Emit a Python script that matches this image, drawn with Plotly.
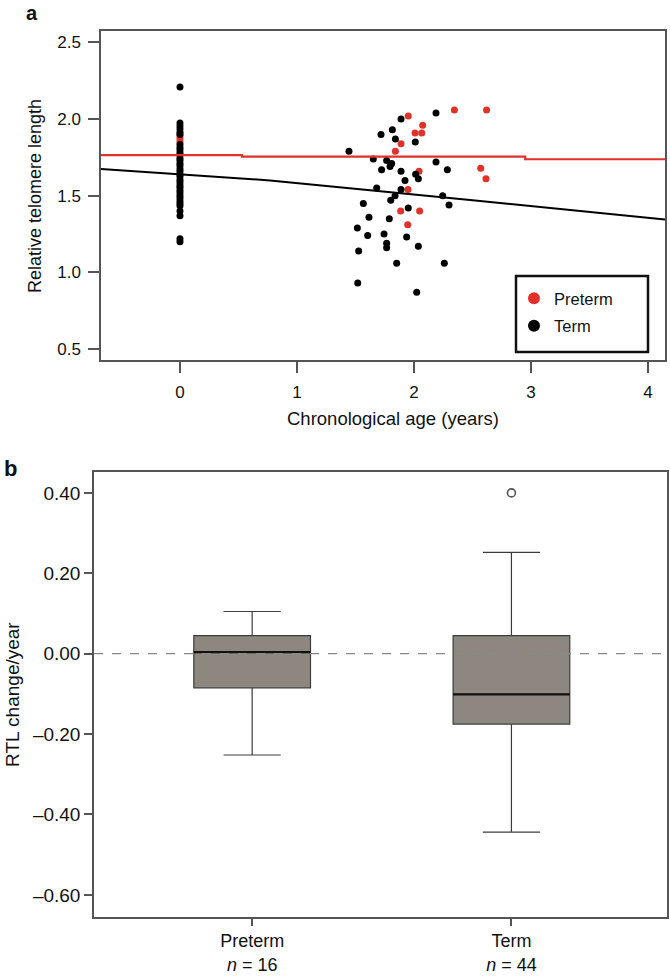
import plotly.graph_objects as go

# ---------------- Panel a data ----------------
# baseline (age 0) relative telomere length
term_age0_rtl = [2.21, 1.975, 1.955, 1.935, 1.915, 1.90, 1.835, 1.815, 1.80, 1.78,
                 1.765, 1.745, 1.73, 1.71, 1.695, 1.675, 1.66, 1.64, 1.625, 1.605,
                 1.59, 1.57, 1.555, 1.535, 1.52, 1.50, 1.485, 1.465, 1.45, 1.435,
                 1.40, 1.37, 1.22, 1.20]
preterm_age0_rtl = [1.85, 1.87, 1.89]

# follow-up (~2 years)
term_age = [1.889, 2.188, 1.718, 1.815, 1.841, 2.011, 1.444, 1.652, 1.766, 1.809,
            1.795, 1.723, 1.889, 2.188, 2.285, 2.014, 2.037, 1.923, 1.681, 1.889,
            1.838, 1.801, 2.245, 2.299, 1.567, 1.615, 1.789, 1.951, 1.516, 1.604,
            1.744, 1.937, 1.766, 1.766, 2.037, 1.527, 1.852, 2.259, 1.519, 2.023]
term_rtl = [2.00, 2.04, 1.90, 1.93, 1.87, 1.85, 1.79, 1.74, 1.73, 1.71,
            1.69, 1.67, 1.66, 1.72, 1.67, 1.64, 1.61, 1.60, 1.55, 1.54,
            1.50, 1.47, 1.50, 1.44, 1.45, 1.36, 1.35, 1.42, 1.29, 1.24,
            1.25, 1.23, 1.19, 1.16, 1.17, 1.14, 1.06, 1.06, 0.93, 0.87]
preterm_age = [1.951, 2.345, 2.074, 2.009, 2.066, 1.889, 1.841, 2.043, 1.949, 1.886,
               2.048, 1.946, 2.62, 2.57, 2.615]
preterm_rtl = [2.02, 2.06, 1.96, 1.91, 1.91, 1.84, 1.79, 1.66, 1.54, 1.40,
               1.40, 1.31, 2.06, 1.68, 1.61]

# fitted lines
preterm_fit_x = [-0.675, 0.53, 2.95, 4.145]
preterm_fit_y = [1.765, 1.755, 1.738, 1.738]
term_fit_x = [-0.675, 0.77, 2.48, 4.145]
term_fit_y = [1.675, 1.600, 1.472, 1.345]

age_ticks = [0, 1, 2, 3, 4]
rtl_ticks = [0.5, 1.0, 1.5, 2.0, 2.5]

# ---------------- Panel b data ----------------
groups = ["Preterm", "Term"]
group_n = [16, 44]
q1 = [-0.085, -0.175]
median = [0.004, -0.101]
q3 = [0.045, 0.045]
lower_fence = [-0.252, -0.444]
upper_fence = [0.105, 0.252]
outlier_group = [1]
outlier_value = [0.40]
change_ticks = [0.40, 0.20, 0.00, -0.20, -0.40, -0.60]
change_tick_text = ["0.40", "0.20", "0.00", "\u20130.20", "\u20130.40", "\u20130.60"]

RED = "#e2302a"
BLACK = "#000000"
W, H = 670, 976
BOX_W = 0.45


def px_x(p):
    return p / W


def px_y(p):
    return 1 - p / H


fig = go.Figure()

# Panel a
fig.add_trace(go.Scatter(x=[0] * len(preterm_age0_rtl) + preterm_age,
                         y=preterm_age0_rtl + preterm_rtl, mode="markers",
                         marker=dict(color=RED, size=7), showlegend=False,
                         xaxis="x", yaxis="y"))
fig.add_trace(go.Scatter(x=[0] * len(term_age0_rtl) + term_age,
                         y=term_age0_rtl + term_rtl, mode="markers",
                         marker=dict(color=BLACK, size=7), showlegend=False,
                         xaxis="x", yaxis="y"))
fig.add_trace(go.Scatter(x=preterm_fit_x, y=preterm_fit_y, mode="lines",
                         line=dict(color=RED, width=2.2, shape="hv"),
                         showlegend=False, xaxis="x", yaxis="y"))
fig.add_trace(go.Scatter(x=term_fit_x, y=term_fit_y, mode="lines",
                         line=dict(color=BLACK, width=2),
                         showlegend=False, xaxis="x", yaxis="y"))
# legend-only entries
fig.add_trace(go.Scatter(x=[None], y=[None], mode="markers", name="Preterm",
                         marker=dict(color=RED, size=12), legendgroup="p",
                         xaxis="x", yaxis="y"))
fig.add_trace(go.Scatter(x=[None], y=[None], mode="markers", name="Term",
                         marker=dict(color=BLACK, size=12), legendgroup="t",
                         xaxis="x", yaxis="y"))

# Panel b
fig.add_trace(go.Box(x=list(range(len(groups))), q1=q1, median=median, q3=q3,
                     lowerfence=lower_fence, upperfence=upper_fence,
                     width=BOX_W, whiskerwidth=0.49, boxpoints=False,
                     fillcolor="#8d8780", line=dict(color="#3c3c3c", width=1.2),
                     showlegend=False, xaxis="x2", yaxis="y2"))
for i, m in enumerate(median):
    fig.add_trace(go.Scatter(x=[i - BOX_W / 2, i + BOX_W / 2], y=[m, m],
                             mode="lines", line=dict(color="#111111", width=2.2),
                             showlegend=False, xaxis="x2", yaxis="y2"))
fig.add_trace(go.Scatter(x=outlier_group, y=outlier_value, mode="markers",
                         marker=dict(symbol="circle-open", color="#555555", size=8,
                                     line=dict(width=1.6)),
                         showlegend=False, xaxis="x2", yaxis="y2"))

axis_common = dict(showline=True, mirror=True, linecolor="#555555", linewidth=1.5,
                   ticks="outside", tickcolor="#555555", tickwidth=1.5,
                   showgrid=False, zeroline=False, automargin=False)
FONT = "Liberation Sans, Arial, sans-serif"

fig.update_layout(
    template="none",
    width=W, height=H, margin=dict(l=0, r=0, t=0, b=0, pad=0),
    paper_bgcolor="white", plot_bgcolor="white",
    font=dict(family=FONT, color="#111111"),
    xaxis=dict(domain=[px_x(101), px_x(665)], range=[-0.675, 4.145],
               tickvals=age_ticks, ticklen=11, tickfont=dict(size=17),
               ticklabelstandoff=5, anchor="y", **axis_common),
    yaxis=dict(domain=[px_y(360), px_y(31)], range=[0.428, 2.575],
               tickvals=rtl_ticks, ticktext=[f"{v:.1f}" for v in rtl_ticks],
               ticklen=11, tickfont=dict(size=17), ticklabelstandoff=4,
               anchor="x", **axis_common),
    xaxis2=dict(domain=[px_x(94), px_x(667)], range=[-0.61, 1.60],
                tickvals=list(range(len(groups))),
                ticktext=[f"{g}<br><i>n</i> = {n}" for g, n in zip(groups, group_n)],
                ticklen=7, tickfont=dict(size=18), ticklabelstandoff=0,
                anchor="y2", **axis_common),
    yaxis2=dict(domain=[px_y(917), px_y(472)], range=[-0.655, 0.452],
                tickvals=change_ticks, ticktext=change_tick_text,
                ticklen=8, tickfont=dict(size=19), anchor="x2", **axis_common),
    showlegend=True,
    legend=dict(x=px_x(514), y=px_y(281), xanchor="left", yanchor="top",
                bgcolor="rgba(0,0,0,0)", borderwidth=0,
                font=dict(size=16.5, family=FONT), tracegroupgap=3),
    shapes=[
        dict(type="rect", xref="paper", yref="paper",
             x0=px_x(516), x1=px_x(648), y0=px_y(352), y1=px_y(276),
             line=dict(color="#111111", width=2.5)),
        dict(type="line", xref="x2 domain", yref="y2", x0=0, x1=1, y0=0, y1=0,
             line=dict(color="#8a8a8a", width=1.2, dash="dash"), layer="above"),
    ],
    annotations=[
        dict(text="<b>a</b>", x=px_x(32), y=px_y(13), xref="paper", yref="paper",
             xanchor="center", yanchor="middle", showarrow=False, font=dict(size=20)),
        dict(text="<b>b</b>", x=px_x(10), y=px_y(468), xref="paper", yref="paper",
             xanchor="center", yanchor="middle", showarrow=False, font=dict(size=22)),
        dict(text="Chronological age (years)", x=px_x(393), y=px_y(418),
             xref="paper", yref="paper", xanchor="center", yanchor="middle",
             showarrow=False, font=dict(size=18.5)),
        dict(text="Relative telomere length", x=px_x(35), y=px_y(196),
             xref="paper", yref="paper", xanchor="center", yanchor="middle",
             showarrow=False, textangle=-90, font=dict(size=18)),
        dict(text="RTL change/year", x=px_x(12), y=px_y(695),
             xref="paper", yref="paper", xanchor="center", yanchor="middle",
             showarrow=False, textangle=-90, font=dict(size=19)),
    ],
)

# remove the browser's default 8px body margin so the figure fills the window exactly
fig.write_html("out.html", config={"displayModeBar": False},
               post_script="document.body.style.margin='0';"
                           "document.body.style.overflow='hidden';")
